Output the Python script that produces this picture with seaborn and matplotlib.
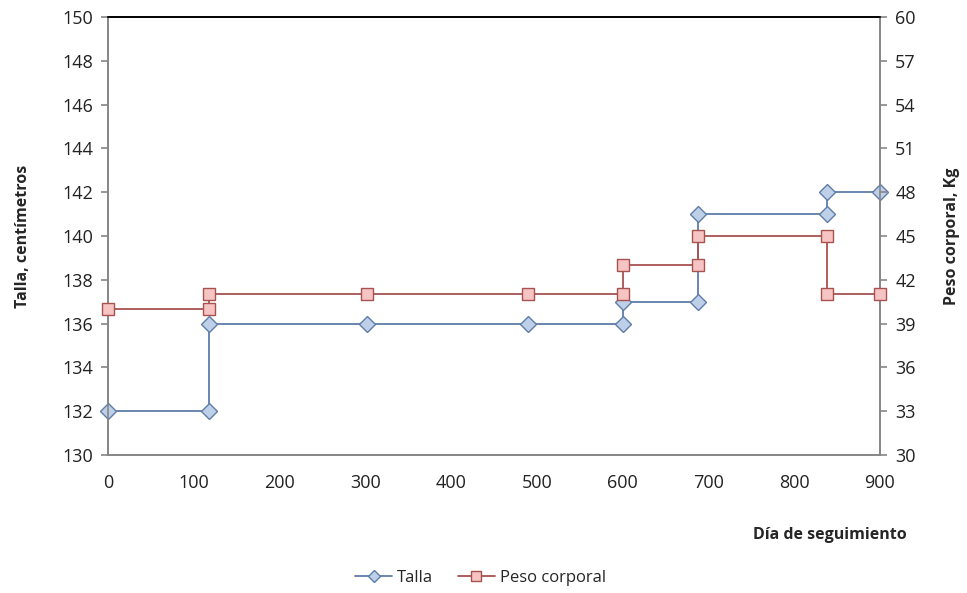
import seaborn as sns
import matplotlib.pyplot as plt
from matplotlib.lines import Line2D

# Datos
dias_talla = [0, 118, 118, 302, 490, 600, 600, 688, 688, 838, 838, 900]
talla = [132, 132, 136, 136, 136, 136, 137, 137, 141, 141, 142, 142]
dias_peso = [0, 118, 118, 302, 490, 600, 600, 688, 688, 838, 838, 900]
peso = [40, 40, 41, 41, 41, 41, 43, 43, 45, 45, 41, 41]

x_ticks = list(range(0, 901, 100))
talla_ticks = list(range(130, 151, 2))
peso_ticks = list(range(30, 61, 3))

sns.set_style('white')
plt.rcParams['font.family'] = ['Open Sans', 'DejaVu Sans']

azul_linea, azul_relleno = '#5F7DA8', '#BDD0E8'
rojo_linea, rojo_relleno = '#A8524F', '#F5C4C3'
gris = '#868686'

fig, ax1 = plt.subplots(figsize=(9.67, 5.93), dpi=100)
fig.subplots_adjust(left=0.112, right=0.910, top=0.971, bottom=0.233)
ax2 = ax1.twinx()

# estimator=None: dibuja los puntos tal cual (hay días repetidos)
sns.lineplot(x=dias_talla, y=talla, sort=False, estimator=None, ax=ax1,
             color=azul_linea, lw=1.3, marker='D', markersize=8,
             markerfacecolor=azul_relleno, markeredgecolor=azul_linea,
             markeredgewidth=1, clip_on=False, zorder=3)
sns.lineplot(x=dias_peso, y=peso, sort=False, estimator=None, ax=ax2,
             color=rojo_linea, lw=1.3, marker='s', markersize=9,
             markerfacecolor=rojo_relleno, markeredgecolor=rojo_linea,
             markeredgewidth=1, clip_on=False, zorder=3)

ax1.set_xlim(0, 900)
ax1.set_ylim(130, 150)
ax2.set_ylim(30, 60)
ax1.set_xticks(x_ticks)
ax1.set_yticks(talla_ticks)
ax2.set_yticks(peso_ticks)

for ax in (ax1, ax2):
    for s in ax.spines.values():
        s.set_color(gris)
        s.set_linewidth(1.2)
    ax.spines['top'].set_color('black')
    ax.tick_params(colors=gris, labelcolor='#222222', labelsize=13,
                   length=5, width=1.2, direction='out')

ax1.tick_params(axis='x', pad=9)
ax1.tick_params(axis='y', pad=6)
ax2.tick_params(axis='y', pad=6)
ax1.set_ylabel('Talla, centímetros', fontsize=11.5, fontweight='bold', labelpad=22)
ax2.set_ylabel('Peso corporal, Kg', fontsize=11.5, fontweight='bold', labelpad=20)
fig.text(0.858, 0.097, 'Día de seguimiento', fontsize=11.5, fontweight='bold',
         ha='center', va='center')

handles = [
    Line2D([], [], color=azul_linea, lw=1.3, marker='D', markersize=6,
           markerfacecolor=azul_relleno, markeredgecolor=azul_linea),
    Line2D([], [], color=rojo_linea, lw=1.3, marker='s', markersize=7,
           markerfacecolor=rojo_relleno, markeredgecolor=rojo_linea),
]
fig.legend(handles, ['Talla', 'Peso corporal'], loc='center', ncol=2,
           bbox_to_anchor=(0.497, 0.025), frameon=False, fontsize=12,
           handlelength=2.2, columnspacing=1.5, handletextpad=0.3)

fig.savefig('out.png', dpi=100)
